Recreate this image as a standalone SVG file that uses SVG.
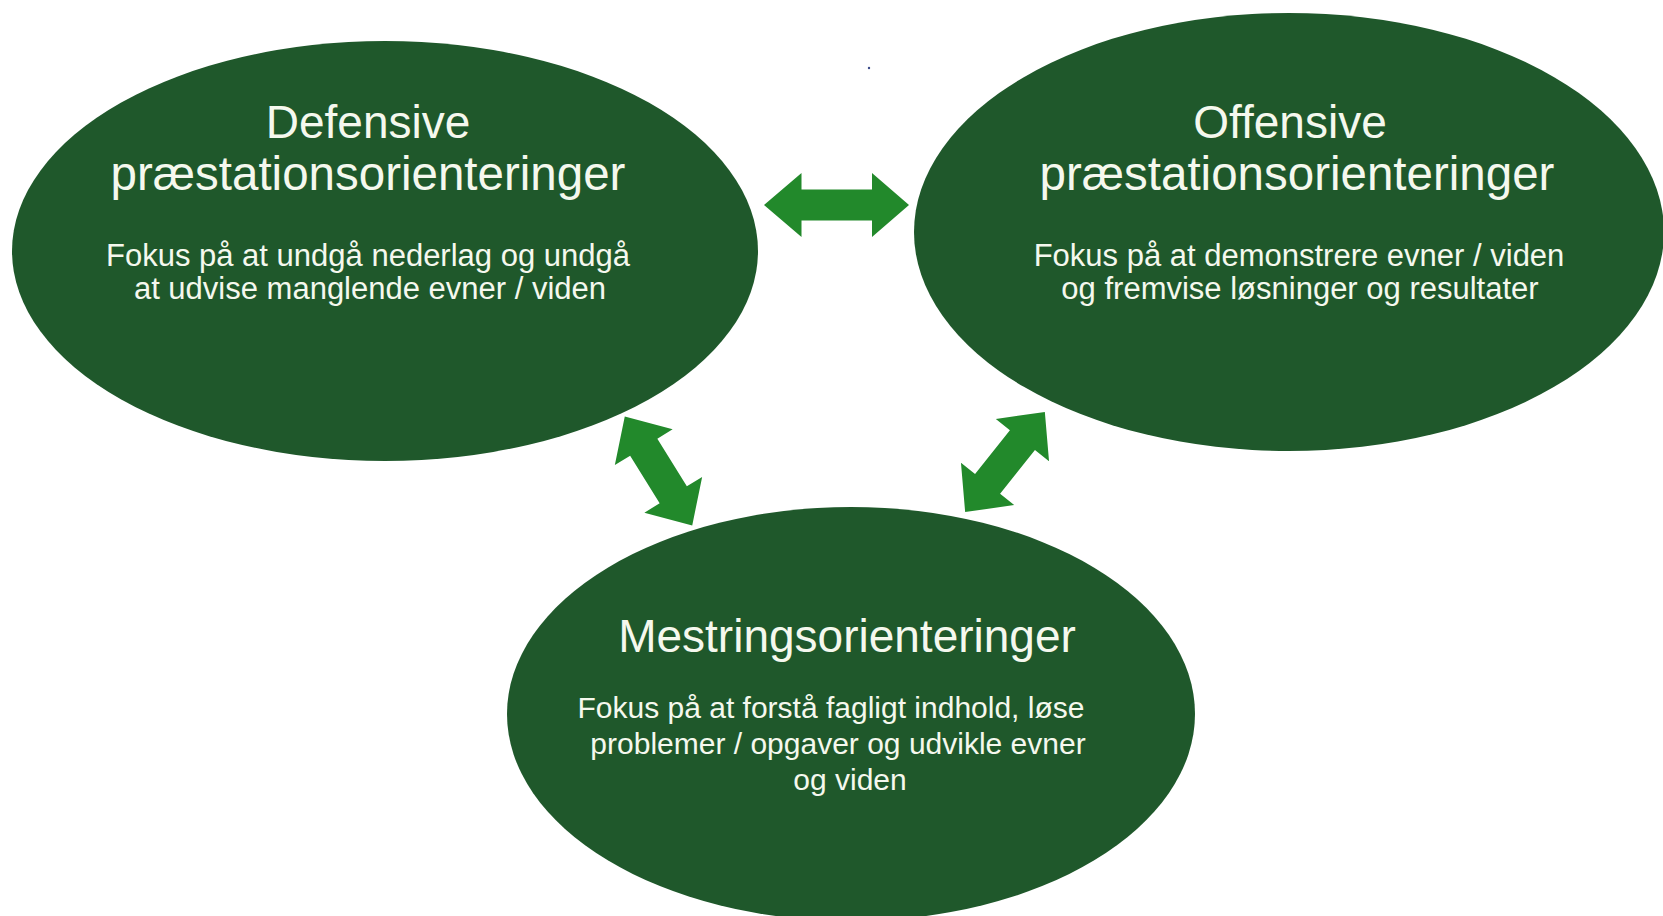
<svg xmlns="http://www.w3.org/2000/svg" width="1663" height="916" viewBox="0 0 1663 916">
  <style>
    .node { fill: #1f582b; }
    .title { font-family: "Liberation Sans", Arial, sans-serif; font-size: 46px; fill: #f5f8ee; text-anchor: middle; }
    .title.big { font-size: 47.5px; }
    .body { font-family: "Liberation Sans", Arial, sans-serif; font-size: 30px; fill: #f5f8ee; text-anchor: middle; }
    .body.big { font-size: 31px; }
    .conn { fill: #22892b; }
  </style>
  <defs>
    <path id="dbl" d="M -64 0 L -28 -34 L -28 -16 L 28 -16 L 28 -34 L 64 0 L 28 34 L 28 16 L -28 16 L -28 34 Z"/>
  </defs>
  <rect width="1663" height="916" fill="#ffffff"/>

  <g id="defensive">
    <ellipse class="node" cx="385" cy="251" rx="373" ry="210"/>
    <text class="title" x="368" y="138">Defensive</text>
    <text class="title big" x="368" y="190">præstationsorienteringer</text>
    <text class="body big" x="368" y="266">Fokus på at undgå nederlag og undgå</text>
    <text class="body big" x="370" y="299">at udvise manglende evner / viden</text>
  </g>

  <g id="offensive">
    <ellipse class="node" cx="1289" cy="232" rx="375" ry="219"/>
    <text class="title" x="1290" y="138">Offensive</text>
    <text class="title big" x="1297" y="190">præstationsorienteringer</text>
    <text class="body big" x="1299" y="266">Fokus på at demonstrere evner / viden</text>
    <text class="body big" x="1300" y="299">og fremvise løsninger og resultater</text>
  </g>

  <g id="mestring">
    <ellipse class="node" cx="851" cy="714" rx="344" ry="207"/>
    <text class="title" x="847" y="652">Mestringsorienteringer</text>
    <text class="body" x="831" y="718">Fokus på at forstå fagligt indhold, løse</text>
    <text class="body" x="838" y="754">problemer / opgaver og udvikle evner</text>
    <text class="body" x="850" y="790">og viden</text>
  </g>

  <g id="connectors">
    <path class="conn" d="M 764 205 L 801.5 173 L 801.5 189.5 L 872 189.5 L 872 173 L 909 205 L 872 237 L 872 220.5 L 801.5 220.5 L 801.5 237 Z"/>
    <use href="#dbl" class="conn" transform="translate(658.5 471) rotate(58.2)"/>
    <use href="#dbl" class="conn" transform="translate(1005 462) rotate(-51.5)"/>
  </g>

  <circle cx="869" cy="68" r="1.2" fill="#3a4a8a"/>
</svg>
